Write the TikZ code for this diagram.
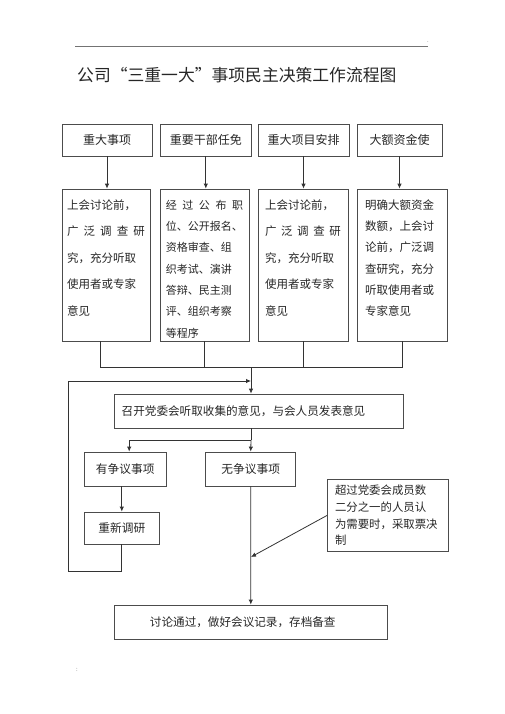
\documentclass[tikz,border=0pt]{standalone}
\usepackage{fontspec}
\setmainfont{Noto Sans CJK SC}
\usetikzlibrary{arrows.meta}
\begin{document}
\begin{tikzpicture}[x=1pt,y=-1pt,
  box/.style={draw=black!70,line width=0.8pt,inner sep=0pt,text=black!85},
  link/.style={draw=black!80,line width=0.8pt},
  go/.style={link,-{Latex[length=5pt,width=4.5pt]}}]
\useasboundingbox (0,0) rectangle (505,714);
\draw[black!55,line width=0.6pt] (75,46.7) -- (428,46.7);
\node[font=\fontsize{6}{6}\selectfont,text=black!60] (dot) at (428,42) {.};
\node[anchor=west,inner sep=0pt,text=black!85,font=\fontsize{16.8}{20}\selectfont] (title) at (77,75) {公司“三重一大”事项民主决策工作流程图};
\node[box,minimum width=90pt,minimum height=32pt,font=\fontsize{12}{14}\selectfont] (b1) at (107,140) {重大事项};
\node[box,minimum width=91.7pt,minimum height=32pt,font=\fontsize{12}{14}\selectfont] (b2) at (205.8,140) {重要干部任免};
\node[box,minimum width=91pt,minimum height=32pt,font=\fontsize{12}{14}\selectfont] (b3) at (303.5,140) {重大项目安排};
\node[box,minimum width=85pt,minimum height=32pt,font=\fontsize{12}{14}\selectfont] (b4) at (399.5,140) {大额资金使};
\node[box,minimum width=88pt,minimum height=152pt,font=\fontsize{11.5}{26.5}\selectfont] (d1) at (106,265)
  {\parbox[c][152pt][t]{78pt}{\rule{0pt}{20.4pt}上会讨论前，\\广\hfill 泛\hfill 调\hfill 查\hfill 研\\究，充分听取\\使用者或专家\\意见}};
\node[box,minimum width=89pt,minimum height=152pt,font=\fontsize{11}{21.3}\selectfont] (d2) at (204.5,265)
  {\parbox[c][152pt][t]{77.5pt}{\rule{0pt}{20.2pt}经\hfill 过\hfill 公\hfill 布\hfill 职\\位、公开报名、\\资格审查、组\\织考试、演讲\\答辩、民主测\\评、组织考察\\等程序}};
\node[box,minimum width=90pt,minimum height=152pt,font=\fontsize{11.5}{26.5}\selectfont] (d3) at (303,265)
  {\parbox[c][152pt][t]{76pt}{\rule{0pt}{20.4pt}上会讨论前，\\广\hfill 泛\hfill 调\hfill 查\hfill 研\\究，充分听取\\使用者或专家\\意见}};
\node[box,minimum width=90pt,minimum height=152pt,font=\fontsize{11.5}{21.2}\selectfont] (d4) at (402,265)
  {\parbox[c][152pt][t]{74pt}{\rule{0pt}{20.4pt}明确大额资金\\数额，上会讨\\论前，广泛调\\查研究，充分\\听取使用者或\\专家意见}};
\node[box,minimum width=289pt,minimum height=34pt,text width=273.6pt,align=left,font=\fontsize{11.6}{14}\selectfont] (m) at (258.5,411) {召开党委会听取收集的意见，与会人员发表意见};
\node[box,minimum width=81.7pt,minimum height=34pt,font=\fontsize{11.7}{14}\selectfont] (y) at (125.2,469) {有争议事项};
\node[box,minimum width=90pt,minimum height=34pt,font=\fontsize{11.7}{14}\selectfont] (n) at (250.7,469) {无争议事项};
\node[box,minimum width=75pt,minimum height=32pt,font=\fontsize{11.7}{14}\selectfont] (r) at (121.8,528) {重新调研};
\node[box,minimum width=121pt,minimum height=72.4pt,text width=105.6pt,align=left,font=\fontsize{11.4}{16.6}\selectfont] (s) at (387.8,515.5) {超过党委会成员数\\二分之一的人员认\\为需要时，采取票决\\制};
\node[box,minimum width=273.7pt,minimum height=34pt,text width=201.7pt,align=left,font=\fontsize{11.6}{14}\selectfont] (f) at (250.8,622) {讨论通过，做好会议记录，存档备查};
\node[font=\fontsize{6}{6}\selectfont,text=black!60] (colon) at (77,670) {:};
\coordinate (bar) at (251,367);
\coordinate (loop) at (68,381);
\coordinate (lc) at (68,571.7);
\coordinate (split) at (251,440);
\coordinate (vote) at (251,557);
\foreach \i in {1,...,4}
  \draw[go] (b\i.south) -- (b\i.south |- d\i.north);
\draw[link] ([xshift=-6pt]d1.south) |- (d4.south |- bar) -- (d4.south);
\draw[link] (d2.south) -- (d2.south |- bar);
\draw[link] (d3.south) -- (d3.south |- bar);
\draw[go] (bar) -- (bar |- m.north);
\draw[go] (r.south) |- (lc) -- (loop) -- (bar |- loop);
\draw[link] (bar |- m.south) -- (split);
\draw[go] (split) -| ([xshift=4pt]y.north);
\draw[go] (split) -- (n.north);
\draw[go] (r.north |- y.south) -- (r.north);
\draw[go] (n.south) -- (f.north);
\draw[go] (s.west) -- (vote);
\end{tikzpicture}
\end{document}
